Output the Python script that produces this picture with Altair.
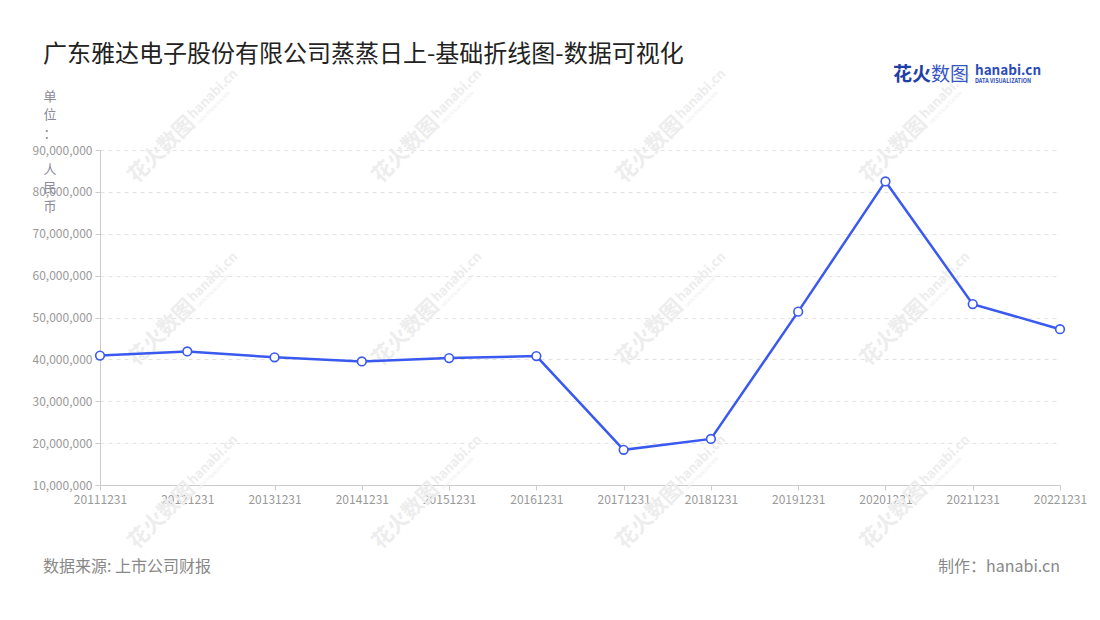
import altair as alt
import pandas as pd

years = ["20111231", "20121231", "20131231", "20141231", "20151231", "20161231",
         "20171231", "20181231", "20191231", "20201231", "20211231", "20221231"]
values = [40900000, 41900000, 40500000, 39500000, 40300000, 40800000,
          18400000, 21000000, 51400000, 82500000, 53200000, 47200000]
y_ticks = [10000000, 20000000, 30000000, 40000000, 50000000, 60000000,
           70000000, 80000000, 90000000]

title_text = "广东雅达电子股份有限公司蒸蒸日上-基础折线图-数据可视化"
source_text = "数据来源: 上市公司财报"
maker_text = "制作：hanabi.cn"
unit_top = "单\n位\n："
unit_bottom = "人\n民\n币"

FONT = "Noto Sans CJK SC"
BLUE = "#3a59ef"
WM = "#ededed"

df = pd.DataFrame({"date": years, "value": values})

x_enc = alt.X("date:N", sort=years,
              scale=alt.Scale(type="point", padding=0),
              axis=alt.Axis(title=None, labelAngle=0, labelFontSize=12,
                            labelColor="#999999", labelFont=FONT,
                            domainColor="#cccccc", tickColor="#cccccc",
                            tickSize=5, labelPadding=4, grid=False))
y_enc = alt.Y("value:Q",
              scale=alt.Scale(domain=[10000000, 90000000], nice=False, zero=False),
              axis=alt.Axis(values=y_ticks, format=",d", labelFontSize=12,
                            labelColor="#999999", labelFont=FONT,
                            domainColor="#cccccc", tickColor="#cccccc",
                            tickSize=5, labelPadding=3, title=None,
                            grid=True, gridDash=[4, 4], gridColor="#e2e2e2"))

line = alt.Chart(df).mark_line(color=BLUE, strokeWidth=2.5).encode(x=x_enc, y=y_enc)
pts = alt.Chart(df).mark_point(filled=True, fill="white", stroke=BLUE,
                               strokeWidth=1.6, size=75, opacity=1).encode(
    x=alt.X("date:N", sort=years), y="value:Q")

# decorative watermark tiles (regular grid, plot-relative pixels)
wm_cols = [83 + 244 * i for i in range(4)]
wm_rows = [-23 + 183 * j for j in range(3)]
wm = pd.DataFrame([(cx, cy) for cx in wm_cols for cy in wm_rows], columns=["cx", "cy"])

def wm_layer(text, dx, dy, size, weight):
    return alt.Chart(wm).transform_calculate(
        px=f"datum.cx + ({dx})", py=f"datum.cy + ({dy})").mark_text(
        text=text, font=FONT, fontSize=size, fontWeight=weight, color=WM,
        angle=315, align="center", baseline="middle").encode(
        x=alt.X("px:Q", scale=None), y=alt.Y("py:Q", scale=None))

wm1 = wm_layer("花火数图", -21, 23, 21, "bold")
wm2 = wm_layer("hanabi.cn", 30, -33, 13, "bold")
wm3 = wm_layer("DATA VISUALIZATION", 31, -19, 4.5, "normal")

def txt(s, x, y, size, color, align="left", weight="normal", baseline="middle",
        line_height=None):
    kw = {}
    if line_height is not None:
        kw = {"lineBreak": "\n", "lineHeight": line_height}
    return alt.Chart(pd.DataFrame({"t": [s]})).mark_text(
        font=FONT, fontSize=size, color=color, align=align,
        baseline=baseline, fontWeight=weight, **kw).encode(
        x=alt.value(x), y=alt.value(y), text="t:N")

title = txt(title_text, -57, -95, 24, "#222222")
unit1 = txt(unit_top, -50, -59, 13, "#8a8a99", align="center", baseline="top",
            line_height=18.3)
unit2 = txt(unit_bottom, -50, 14, 13, "#8a8a99", align="center", baseline="top",
            line_height=18.3)
source = txt(source_text, -57, 417, 16, "#888888")
maker = txt(maker_text, 960, 417, 16, "#888888", align="right")
logo1a = txt("花火", 793, -75, 19, "#1f3fa8", weight="bold")
logo1b = txt("数图", 831, -75, 19, "#3656c4")
logo2 = txt("hanabi.cn", 875, -79, 13.5, "#2b4cb8", weight="bold")
logo3 = txt("DATA VISUALIZATION", 875, -69, 5.5, "#2b4cb8", weight="bold")

chart = alt.layer(wm1, wm2, wm3, line, pts, title, unit1, unit2, source, maker,
                  logo1a, logo1b, logo2, logo3).properties(
    width=960, height=335,
    background="white",
    autosize=alt.AutoSizeParams(type="none"),
    padding={"left": 92, "top": 142, "right": 32, "bottom": 127},
).configure_view(strokeWidth=0, stroke="transparent")

chart.save("out.html", embed_options={"renderer": "svg", "actions": False})
